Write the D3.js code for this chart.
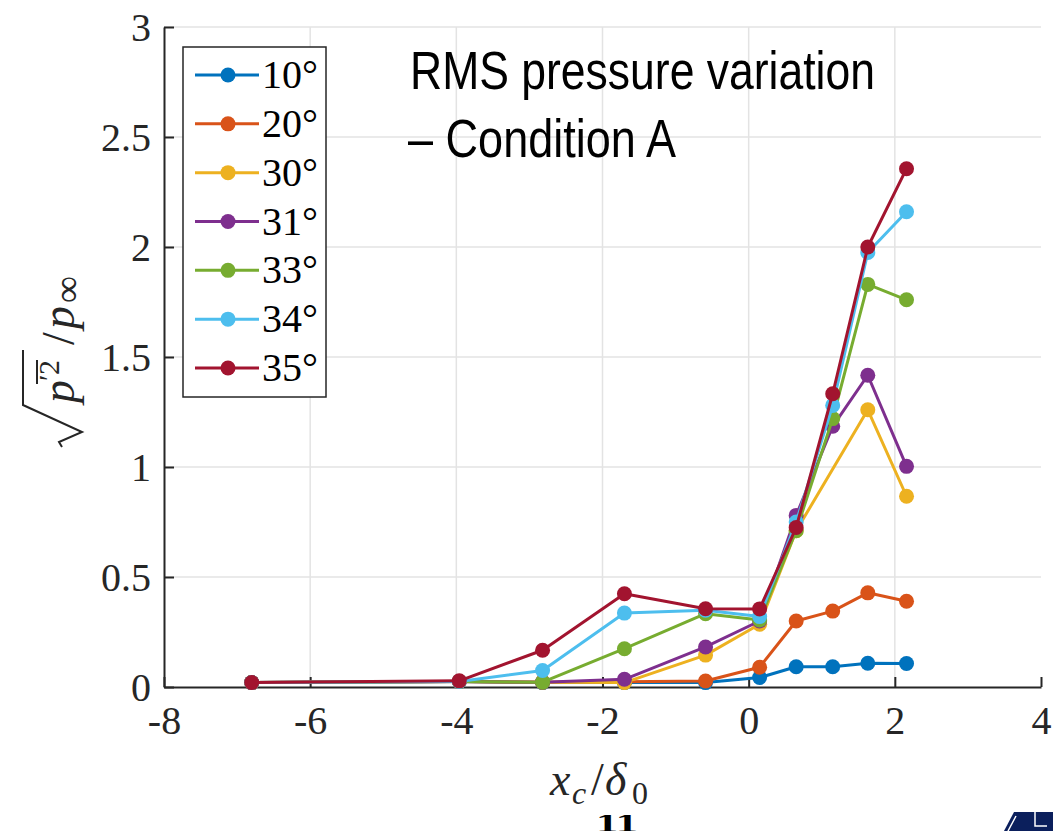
<!DOCTYPE html>
<html>
<head>
<meta charset="utf-8">
<script src="https://cdn.jsdelivr.net/npm/d3@7"></script>
<style>
  html, body { margin: 0; padding: 0; background: #fff; }
  svg { display: block; }
  .tick-label { font-family: 'Liberation Serif', 'DejaVu Serif', serif; font-size: 40px; fill: #262626; }
  .legend-label { font-family: 'Liberation Serif', 'DejaVu Serif', serif; font-size: 40px; fill: #000; }
  .math { font-family: 'Liberation Serif', 'DejaVu Serif', serif; fill: #262626; }
  .title { font-family: 'Liberation Sans', Arial, sans-serif; font-size: 53px; fill: #000; }
</style>
</head>
<body>
<svg width="1053" height="831"></svg>
<script>
// streamwise position x_c / delta_0
const xValues = [-6.80, -3.96, -2.82, -1.70, -0.59, 0.15, 0.65, 1.15, 1.63, 2.16];

// RMS pressure, one array per ramp angle (null = no point)
const rms10 = [0.020, 0.025, 0.020, 0.020, 0.020, 0.043, 0.092, 0.092, 0.108, 0.107];
const rms20 = [0.020, 0.025, 0.022, 0.024, 0.027, 0.090, 0.300, 0.345, 0.428, 0.390];
const rms30 = [0.020, 0.025, 0.022, 0.020, 0.145, 0.285, 0.710, null, 1.260, 0.867];
const rms31 = [0.020, 0.025, 0.022, 0.035, 0.182, 0.300, 0.780, 1.185, 1.417, 1.003];
const rms33 = [0.020, 0.025, 0.022, 0.174, 0.333, 0.305, 0.710, 1.220, 1.830, 1.760];
const rms34 = [0.020, 0.025, 0.075, 0.336, 0.349, 0.320, 0.750, 1.280, 1.975, 2.160];
const rms35 = [0.020, 0.028, 0.167, 0.424, 0.356, 0.355, 0.725, 1.333, 2.000, 2.356];

const seriesNames = ['10°', '20°', '30°', '31°', '33°', '34°', '35°'];
const seriesValues = [rms10, rms20, rms30, rms31, rms33, rms34, rms35];
const seriesColors = ['#0072BD', '#D95319', '#EDB120', '#7E2F8E', '#77AC30', '#4DBEEE', '#A2142F'];

const xTicks = [-8, -6, -4, -2, 0, 2, 4];
const yTicks = [0, 0.5, 1, 1.5, 2, 2.5, 3];

function whenLoaded() {
  const svg = d3.select('svg');

  const xScale = d3.scaleLinear().domain([-8, 4]).range([164, 1041]);
  const yScale = d3.scaleLinear().domain([0, 3]).range([687, 27]);

  const axisColor = '#262626';

  // grid
  const grid = svg.append('g');
  grid.selectAll('line.gx').data(xTicks.filter(t => t > -8 && t < 4))
    .enter().append('line')
      .attr('x1', d => xScale(d)).attr('x2', d => xScale(d))
      .attr('y1', yScale(0)).attr('y2', yScale(3))
      .attr('stroke', '#e3e3e3').attr('stroke-width', 1.5);
  grid.selectAll('line.gy').data(yTicks.filter(t => t > 0))
    .enter().append('line')
      .attr('x1', xScale(-8)).attr('x2', xScale(4))
      .attr('y1', d => yScale(d)).attr('y2', d => yScale(d))
      .attr('stroke', '#e3e3e3').attr('stroke-width', 1.5);

  // axes (inward ticks, like matlab)
  const xAxis = svg.append('g')
    .attr('transform', `translate(0,${yScale(0)})`)
    .call(d3.axisBottom(xScale).tickValues(xTicks).tickSizeInner(-10).tickSizeOuter(0).tickPadding(48)
      .tickFormat(d => String(d)));
  const yAxis = svg.append('g')
    .attr('transform', `translate(${xScale(-8)},0)`)
    .call(d3.axisLeft(yScale).tickValues(yTicks).tickSizeInner(-10).tickSizeOuter(0).tickPadding(13)
      .tickFormat(d => String(d)));

  [xAxis, yAxis].forEach(a => {
    a.select('.domain').attr('stroke', axisColor).attr('stroke-width', 2);
    a.selectAll('.tick line').attr('stroke', axisColor).attr('stroke-width', 2);
    a.selectAll('.tick text').attr('class', 'tick-label').attr('fill', axisColor).attr('font-size', null).attr('font-family', null);
  });
  xAxis.selectAll('.tick text').attr('dy', null).attr('y', 47);
  yAxis.selectAll('.tick text').attr('dy', '0.34em');

  // series
  const line = d3.line().x(d => xScale(d.x)).y(d => yScale(d.y));
  seriesValues.forEach((vals, i) => {
    const pts = xValues.map((x, j) => ({x, y: vals[j]})).filter(p => p.y !== null);
    const g = svg.append('g');
    g.append('path')
      .attr('d', line(pts))
      .attr('fill', 'none')
      .attr('stroke', seriesColors[i])
      .attr('stroke-width', 3)
      .attr('stroke-linejoin', 'round');
    g.selectAll('circle').data(pts)
      .enter().append('circle')
        .attr('cx', d => xScale(d.x))
        .attr('cy', d => yScale(d.y))
        .attr('r', 7.5)
        .attr('fill', seriesColors[i]);
  });

  // legend
  const legend = svg.append('g');
  legend.append('rect')
    .attr('x', 183).attr('y', 47).attr('width', 143).attr('height', 350)
    .attr('fill', '#fff').attr('stroke', axisColor).attr('stroke-width', 1.5);
  const rowY = d3.scaleLinear().domain([0, 6]).range([75, 368]);
  seriesNames.forEach((name, i) => {
    const y = rowY(i);
    legend.append('line')
      .attr('x1', 195).attr('x2', 259).attr('y1', y).attr('y2', y)
      .attr('stroke', seriesColors[i]).attr('stroke-width', 3);
    legend.append('circle')
      .attr('cx', 228).attr('cy', y).attr('r', 7.5).attr('fill', seriesColors[i]);
    legend.append('text')
      .attr('class', 'legend-label')
      .attr('x', 262).attr('y', y + 13)
      .text(name);
  });

  // title
  svg.append('text').attr('class', 'title')
    .attr('x', 410).attr('y', 89)
    .attr('textLength', 465).attr('lengthAdjust', 'spacingAndGlyphs')
    .text('RMS pressure variation');
  svg.append('text').attr('class', 'title')
    .attr('x', 408).attr('y', 157)
    .attr('textLength', 268).attr('lengthAdjust', 'spacingAndGlyphs')
    .text('– Condition A');

  // x label: x_c / delta_0
  const xl = svg.append('text').attr('class', 'math').attr('y', 795).attr('font-size', 46);
  xl.append('tspan').attr('x', 550).attr('font-style', 'italic').text('x');
  xl.append('tspan').attr('x', 572).attr('font-style', 'italic').attr('font-size', 32).attr('dy', 9).text('c');
  xl.append('tspan').attr('x', 591).attr('dy', -9).text('/');
  xl.append('tspan').attr('x', 605).attr('font-style', 'italic').text('δ');
  xl.append('tspan').attr('x', 632).attr('font-size', 32).attr('dy', 9).text('0');

  // y label: sqrt(overline{p'^2}) / p_inf
  const yl = svg.append('g').attr('transform', 'translate(74,356) rotate(-90)');
  yl.append('path')
    .attr('d', 'M -91 -12 L -86 -15 L -76 8 L -49 -51 L 6 -51')
    .attr('fill', 'none').attr('stroke', axisColor).attr('stroke-width', 2);
  yl.append('line')
    .attr('x1', -28).attr('x2', -4).attr('y1', -37).attr('y2', -37)
    .attr('stroke', axisColor).attr('stroke-width', 2);
  const ylt = yl.append('text').attr('class', 'math').attr('y', 0).attr('font-size', 46);
  ylt.append('tspan').attr('x', -47).attr('font-style', 'italic').text('p');
  ylt.append('tspan').attr('x', -25).attr('font-size', 30).attr('dy', -15).text('′');
  ylt.append('tspan').attr('x', -19).attr('font-size', 30).text('2');
  ylt.append('tspan').attr('x', 11).attr('dy', 15).text('/');
  ylt.append('tspan').attr('x', 27).attr('font-style', 'italic').text('p');
  ylt.append('tspan').attr('x', 53).attr('font-size', 38).attr('dy', 6).text('∞');

  // slide leftovers: page number (clipped) and logo corner
  svg.append('clipPath').attr('id', 'pageclip')
    .append('rect').attr('x', 580).attr('y', 815).attr('width', 80).attr('height', 16);
  svg.append('text')
    .attr('x', 596).attr('y', 832)
    .attr('clip-path', 'url(#pageclip)')
    .attr('font-family', 'Liberation Serif, serif').attr('font-weight', 'bold').attr('font-size', 28)
    .attr('textLength', 42).attr('lengthAdjust', 'spacingAndGlyphs')
    .text('11');
  svg.append('path')
    .attr('d', 'M 1004 831 L 1014 812 L 1053 812 L 1053 831 Z')
    .attr('fill', '#0b1f5c');
  svg.append('path')
    .attr('d', 'M 1000 831 L 1011 812 M 1008 831 L 1016 816 M 1035 812 L 1035 826 L 1047 826')
    .attr('fill', 'none').attr('stroke', '#fff').attr('stroke-width', 1.5);
}

window.onload = whenLoaded;
</script>
</body>
</html>
